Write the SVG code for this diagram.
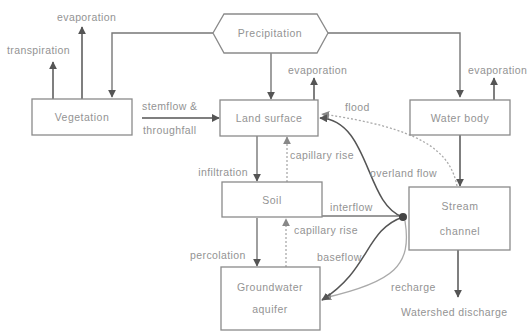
<svg xmlns="http://www.w3.org/2000/svg" width="527" height="333" viewBox="0 0 527 333">
<style>
.box{fill:#fff;stroke:#8a8a8a;stroke-width:1.3}
.lbl{font-family:"Liberation Sans",Arial,sans-serif;font-size:10.5px;fill:#939393;letter-spacing:0.4px}
.bl{font-family:"Liberation Sans",Arial,sans-serif;font-size:10.5px;fill:#939393;letter-spacing:0.5px;text-anchor:middle}
.dk{fill:none;stroke:#555;stroke-width:1.5}
.md{fill:none;stroke:#777;stroke-width:1.4}
.lt{fill:none;stroke:#aaa;stroke-width:1.3}
.dot{fill:none;stroke:#aaa;stroke-width:1.3;stroke-dasharray:2 2}
</style>
<defs>
<marker id="a" viewBox="0 0 10 10" refX="9" refY="5" markerWidth="8" markerHeight="8" markerUnits="userSpaceOnUse" orient="auto"><path d="M0,0 L10,5 L0,10 z" fill="#555"/></marker>
<marker id="al" viewBox="0 0 10 10" refX="9" refY="5" markerWidth="8" markerHeight="8" markerUnits="userSpaceOnUse" orient="auto"><path d="M0,0 L10,5 L0,10 z" fill="#888"/></marker>
</defs>
<g id="connectors">
<polyline class="md" points="213,33 112,33 112,97" marker-end="url(#a)"/>
<polyline class="md" points="328,33 460,33 460,97" marker-end="url(#a)"/>
<line class="md" x1="271" y1="53" x2="271" y2="99" marker-end="url(#a)"/>
<line class="dk" x1="53" y1="99" x2="53" y2="62" marker-end="url(#a)"/>
<line class="dk" x1="82" y1="99" x2="82" y2="27" marker-end="url(#a)"/>
<line class="dk" x1="314" y1="100" x2="314" y2="78" marker-end="url(#a)"/>
<line class="dk" x1="494" y1="100" x2="494" y2="78" marker-end="url(#a)"/>
<line class="dk" x1="142" y1="118" x2="219" y2="118" marker-end="url(#a)"/>
<line class="md" x1="257" y1="136" x2="257" y2="181" marker-end="url(#a)"/>
<line class="dot" x1="287" y1="182" x2="287" y2="137" marker-end="url(#al)"/>
<line class="md" x1="257" y1="218" x2="257" y2="266" marker-end="url(#a)"/>
<line class="dot" x1="286" y1="267" x2="286" y2="219" marker-end="url(#al)"/>
<line class="dk" x1="460" y1="135" x2="460" y2="186" stroke-width="1.8" marker-end="url(#a)"/>
<line class="dk" x1="458" y1="250" x2="458" y2="297" marker-end="url(#a)"/>
<line class="md" x1="322" y1="216" x2="400" y2="216"/>
<path class="dot" d="M457,186 C450,150 420,128 322,114" marker-end="url(#al)"/>
<path class="dk" d="M403,217 C365,205 370,120 320,118" marker-end="url(#a)"/>
<path class="lt" d="M405,221 C412,265 395,282 324,298" marker-end="url(#al)"/>
<path class="dk" d="M403,217 C365,230 370,270 322,300" marker-end="url(#a)"/>
<circle cx="403" cy="217" r="4" fill="#444"/>
</g>
<g id="precipitation">
<polygon class="box" points="213,33 224,14 317,14 328,33 317,53 224,53"/>
<text class="bl" x="270" y="37">Precipitation</text>
</g>
<g id="vegetation">
<rect class="box" x="32" y="99" width="100" height="36"/>
<text class="bl" x="82" y="121">Vegetation</text>
</g>
<g id="land-surface">
<rect class="box" x="220" y="100" width="98" height="36"/>
<text class="bl" x="269" y="122">Land surface</text>
</g>
<g id="water-body">
<rect class="box" x="410" y="100" width="100" height="35"/>
<text class="bl" x="460" y="122">Water body</text>
</g>
<g id="soil">
<rect class="box" x="222" y="182" width="100" height="35"/>
<text class="bl" x="272" y="204">Soil</text>
</g>
<g id="groundwater-aquifer">
<rect class="box" x="221" y="267" width="99" height="63"/>
<text class="bl" x="270" y="291">Groundwater</text>
<text class="bl" x="270" y="313">aquifer</text>
</g>
<g id="stream-channel">
<rect class="box" x="409" y="187" width="101" height="63"/>
<text class="bl" x="460" y="210">Stream</text>
<text class="bl" x="460" y="235">channel</text>
</g>
<g id="labels">
<text class="lbl" x="57" y="21">evaporation</text>
<text class="lbl" x="7" y="54">transpiration</text>
<text class="lbl" x="288" y="74">evaporation</text>
<text class="lbl" x="468" y="74">evaporation</text>
<text class="lbl" x="142" y="110">stemflow &amp;</text>
<text class="lbl" x="143" y="134">throughfall</text>
<text class="lbl" x="345" y="111">flood</text>
<text class="lbl" x="248" y="176" text-anchor="end">infiltration</text>
<text class="lbl" x="290" y="159">capillary rise</text>
<text class="lbl" x="370" y="177">overland flow</text>
<text class="lbl" x="330" y="211">interflow</text>
<text class="lbl" x="190" y="259">percolation</text>
<text class="lbl" x="294" y="234">capillary rise</text>
<text class="lbl" x="317" y="261">baseflow</text>
<text class="lbl" x="391" y="291">recharge</text>
<text class="lbl" x="401" y="316">Watershed discharge</text>
</g>
</svg>
